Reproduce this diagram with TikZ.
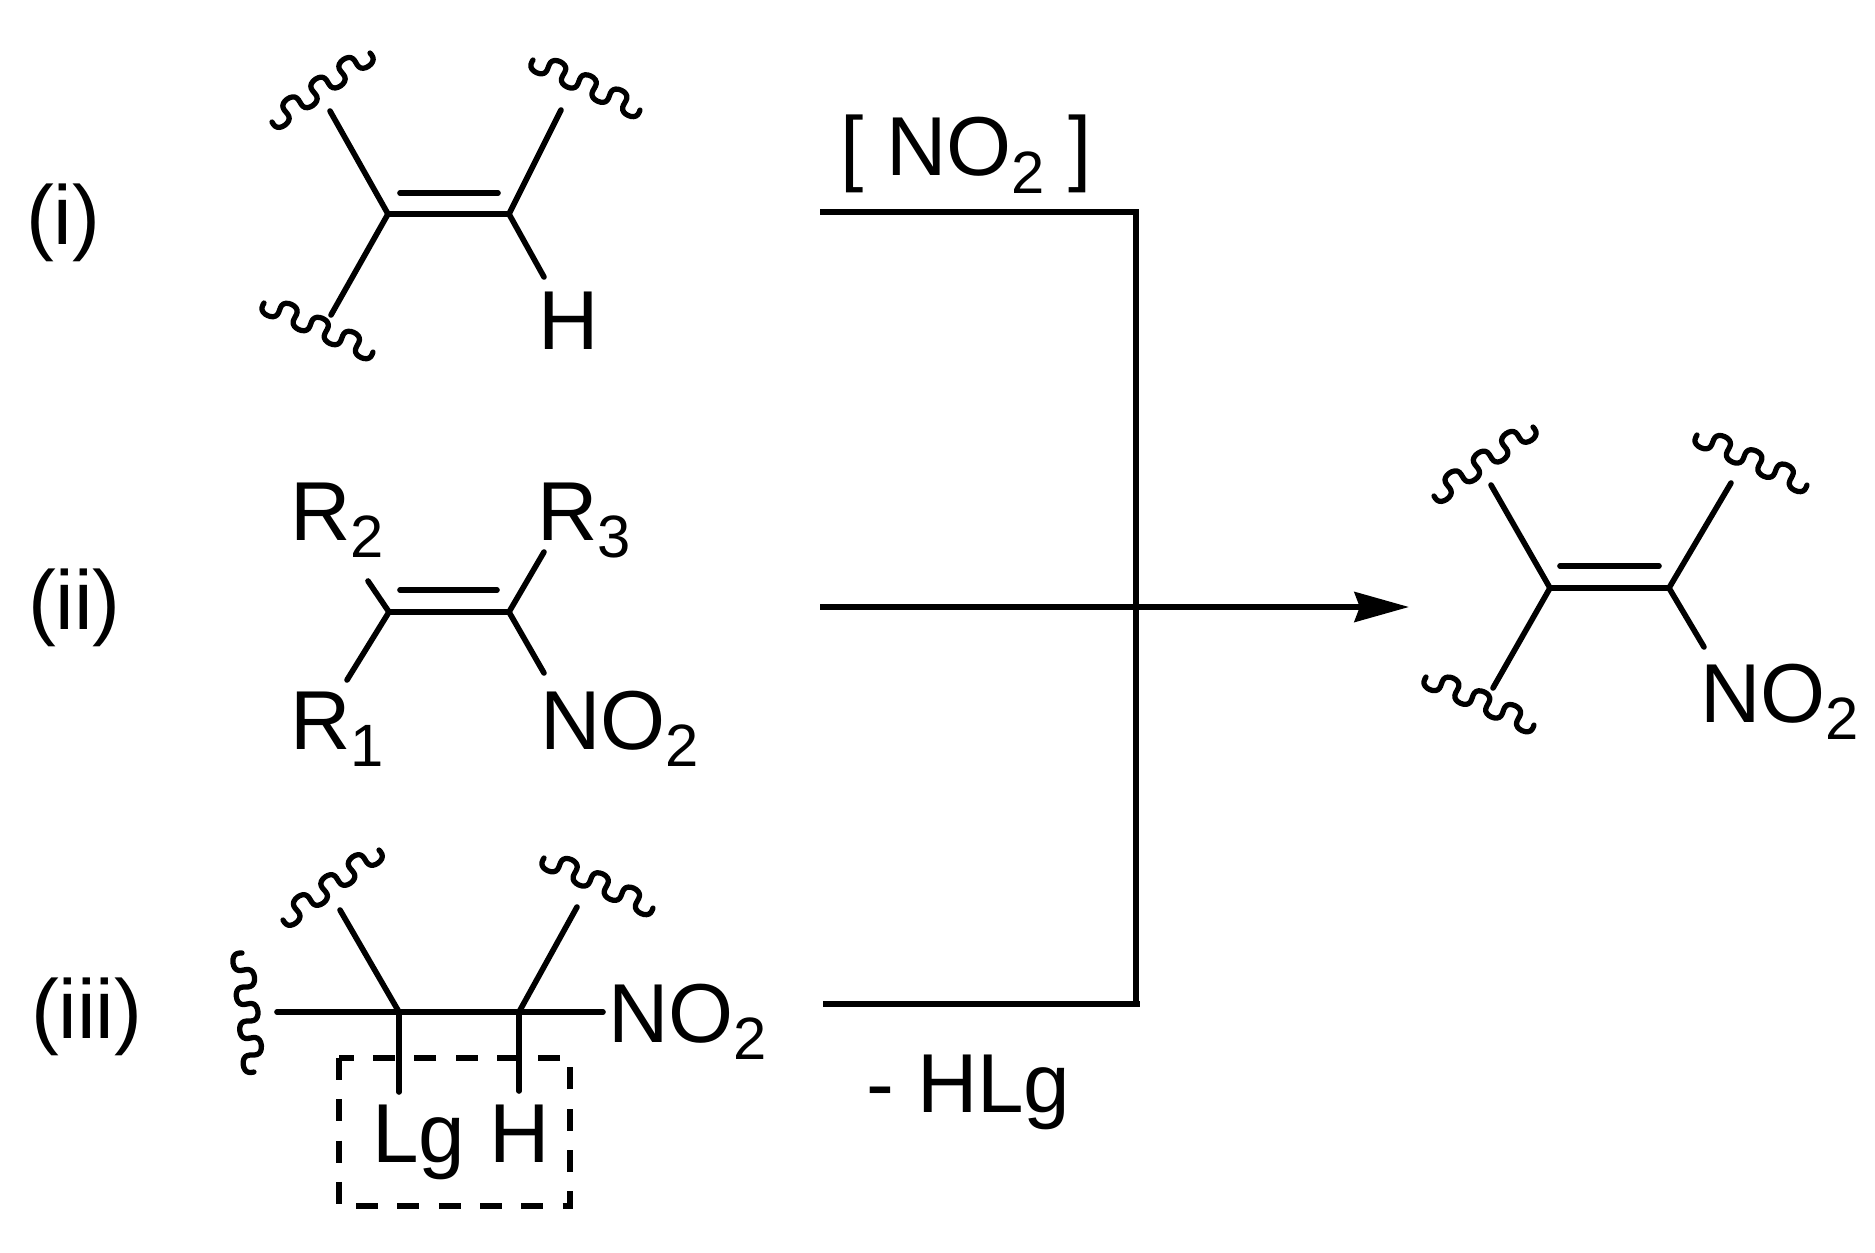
\documentclass[tikz,border=0pt]{standalone}
\usepackage{fontspec}
\setmainfont{Liberation Sans}
\usetikzlibrary{arrows.meta}
\newcommand\sbt[1]{\raisebox{-10.2pt}{\fontsize{34}{36}\selectfont #1}}
\newcommand\wv[4]{%
  \pgfmathsetmacro\wL{veclen(#3-#1,#4-#2)}%
  \pgfmathsetmacro\wux{(#3-#1)/\wL}%
  \pgfmathsetmacro\wuy{(#4-#2)/\wL}%
  \draw[wavy] plot[smooth,domain=0:1,samples=85,variable=\wt]
   ({#1+\wux*(\wL*\wt-3.2*sin(2*1260*\wt))-\wuy*10*sin(1260*\wt)},
    {#2+\wuy*(\wL*\wt-3.2*sin(2*1260*\wt))+\wux*10*sin(1260*\wt)});}
\tikzset{
  bond/.style={line width=3.2pt,line cap=round,line join=miter},
  wavy/.style={line width=3pt,line cap=round,line join=round},
  flow/.style={line width=3.2pt,line cap=butt},
  lab/.style={anchor=base west,inner sep=0pt,outer sep=0pt,font=\fontsize{47.6}{50}\selectfont},
  dashbox/.style={line width=3.2pt,dash pattern=on 12.5pt off 11pt},
}
\begin{document}
\begin{tikzpicture}[x=0.2mm,y=-0.2mm]
\path[use as bounding box,fill=white] (0,0) rectangle (1875,1253);
% labels
\node[lab] (li) at (26,245) {(i)};
\node[lab] (lii) at (28,629) {(ii)};
\node[lab] (liii) at (31,1038) {(iii)};
\node[lab] (rgt) at (840,176) {[ NO\sbt{2} ]};
\node[lab] (hlg) at (866,1112) {- HLg};
% structure i
\coordinate (a1) at (388,214); \coordinate (a2) at (509,214);
\coordinate (a3) at (400,193); \coordinate (a4) at (498,193);
\coordinate (a5) at (330,111); \coordinate (a6) at (561,110);
\coordinate (a7) at (331,315); \coordinate (a8) at (544,277);
\draw[bond] (a1)--(a2); \draw[bond] (a3)--(a4);
\draw[bond] (a1)--(a5); \draw[bond] (a1)--(a7);
\draw[bond] (a2)--(a6); \draw[bond] (a2)--(a8);
\node[lab] (ah) at (538,349) {H};
\wv{272}{122}{370}{53}
\wv{533}{60}{640}{110}
\wv{264}{303}{373}{352}
% structure ii
\coordinate (b1) at (389,612); \coordinate (b2) at (509,612);
\coordinate (b3) at (400,590); \coordinate (b4) at (497,590);
\coordinate (b5) at (368,581); \coordinate (b6) at (544,552);
\coordinate (b7) at (347,680); \coordinate (b8) at (544,673);
\draw[bond] (b1)--(b2); \draw[bond] (b3)--(b4);
\draw[bond] (b1)--(b5); \draw[bond] (b1)--(b7);
\draw[bond] (b2)--(b6); \draw[bond] (b2)--(b8);
\node[lab] (r2) at (290,540) {R\sbt{2}};
\node[lab] (r3) at (537,540) {R\sbt{3}};
\node[lab] (r1) at (290,749) {R\sbt{1}};
\node[lab] (bn) at (540,749) {NO\sbt{2}};
% structure iii
\coordinate (c1) at (399,1012); \coordinate (c2) at (519,1012);
\coordinate (c3) at (277,1012); \coordinate (c4) at (603,1012);
\coordinate (c5) at (340,910); \coordinate (c6) at (577,907);
\coordinate (c7) at (399,1092); \coordinate (c8) at (519,1091);
\coordinate (bx1) at (339,1058); \coordinate (bx2) at (570,1206);
\draw[dashbox] (bx1) rectangle (bx2);
\draw[bond] (c3)--(c4);
\draw[bond] (c1)--(c5); \draw[bond] (c2)--(c6);
\draw[bond] (c1)--(c7); \draw[bond] (c2)--(c8);
\node[lab] (cn) at (608,1042) {NO\sbt{2}};
\node[lab] (cl) at (372,1162) {Lg};
\node[lab] (ch) at (489,1162) {H};
\wv{283}{920}{379}{850}
\wv{544}{858}{653}{908}
\wv{242}{953}{254}{1072}
% flow lines
\coordinate (f1) at (820,212); \coordinate (f2) at (1136,212);
\coordinate (f3) at (820,607); \coordinate (f4) at (1409,607);
\coordinate (f5) at (823,1004); \coordinate (f6) at (1140,1004);
\coordinate (f7) at (1136,1004);
\draw[flow] (f1)--(f2)--(f7);
\draw[flow] (f5)--(f6);
\draw[flow,-{Stealth[length=31pt,width=17pt,inset=3pt]}] (f3)--(f4);
% product
\coordinate (d1) at (1550,588); \coordinate (d2) at (1669,588);
\coordinate (d3) at (1560,566); \coordinate (d4) at (1659,566);
\coordinate (d5) at (1491,485); \coordinate (d6) at (1731,483);
\coordinate (d7) at (1493,688); \coordinate (d8) at (1704,647);
\draw[bond] (d1)--(d2); \draw[bond] (d3)--(d4);
\draw[bond] (d1)--(d5); \draw[bond] (d1)--(d7);
\draw[bond] (d2)--(d6); \draw[bond] (d2)--(d8);
\node[lab] (dn) at (1700,722) {NO\sbt{2}};
\wv{1434}{496}{1533}{427}
\wv{1697}{435}{1807}{485}
\wv{1426}{677}{1534}{725}
\end{tikzpicture}
\end{document}
